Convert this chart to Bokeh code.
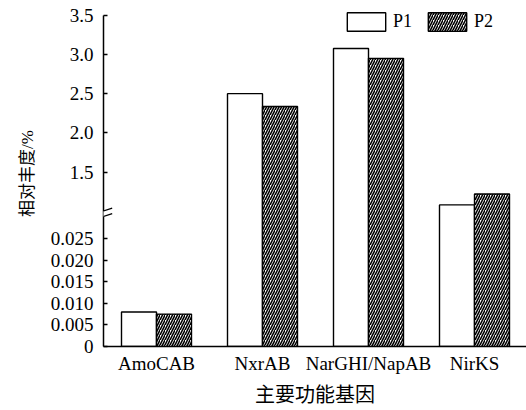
from bokeh.plotting import figure
from bokeh.models import (ColumnDataSource, Range1d, FixedTicker, Legend, LegendItem,
                          Arrow, Title)
from bokeh.transform import dodge
from bokeh.embed import file_html
from bokeh.resources import INLINE

# ---- data ----
categories = ["AmoCAB", "NxrAB", "NarGHI/NapAB", "NirKS"]
p1_values = [0.0080, 2.50, 3.075, 1.08]
p2_values = [0.0075, 2.335, 2.95, 1.22]
lower_ticks = [0, 0.005, 0.010, 0.015, 0.020, 0.025]
lower_labels = ["0", "0.005", "0.010", "0.015", "0.020", "0.025"]
upper_ticks = [1.5, 2.0, 2.5, 3.0, 3.5]
upper_labels = ["1.5", "2.0", "2.5", "3.0", "3.5"]
x_title = "主要功能基因"
y_title = "相对丰度/%"

# ---- broken-axis mapping (value -> display units) ----
LOW_MAX = 0.0311
PX_LOW = 108.3 / 0.025
UP_BASE_V, UP_BASE_D, PX_UP = 1.5, 175.0, 78.6


def disp(v):
    if v <= LOW_MAX:
        return round(v * PX_LOW, 3)
    return round(UP_BASE_D + (v - UP_BASE_V) * PX_UP, 3)


CAT_PX = 106.0
FONT = "'Liberation Serif', 'Noto Sans CJK SC'"

xs = [i + 0.5 for i in range(len(categories))]
src = ColumnDataSource(dict(
    x=xs,
    p1=[disp(v) for v in p1_values],
    p2=[disp(v) for v in p2_values],
))

p = figure(width=526, height=410, output_backend="svg", toolbar_location=None,
           x_range=Range1d(0, 423 / CAT_PX), y_range=Range1d(0, 347),
           min_border_left=103, min_border_right=0, min_border_top=0,
           min_border_bottom=63)
p.outline_line_color = None
p.xgrid.visible = False
p.ygrid.visible = False
p.background_fill_color = "white"
p.border_fill_color = "white"

bw = 35 / CAT_PX
r1 = p.vbar(x=dodge("x", -bw / 2, range=p.x_range), top="p1", bottom=0, width=bw,
            source=src, fill_color="white", line_color="black", line_width=1.4)
r2 = p.vbar(x=dodge("x", bw / 2, range=p.x_range), top="p2", bottom=0, width=bw,
            source=src, fill_color="white", line_color="black", line_width=1.4,
            hatch_pattern="/", hatch_color="black", hatch_scale=5, hatch_weight=1.6)

# x axis
xa = p.xaxis[0]
xa.ticker = FixedTicker(ticks=xs)
xa.major_label_overrides = {x: c for x, c in zip(xs, categories)}
xa.major_tick_in = 0
xa.major_tick_out = 0
xa.minor_tick_line_color = None
xa.axis_line_width = 1.5
xa.axis_line_color = "black"
xa.major_label_text_font = FONT
xa.major_label_text_font_size = "19px"
xa.major_label_text_color = "black"
xa.major_label_standoff = 6

# y axis
ya = p.yaxis[0]
yt = [disp(t) for t in lower_ticks + upper_ticks]
ya.ticker = FixedTicker(ticks=yt)
ya.major_label_overrides = {d: l for d, l in zip(yt, lower_labels + upper_labels)}
ya.bounds = (0, disp(3.5))
ya.major_tick_in = 4
ya.major_tick_out = 0
ya.major_tick_line_width = 1.4
ya.minor_tick_line_color = None
ya.axis_line_width = 1.5
ya.axis_line_color = "black"
ya.major_label_text_font = FONT
ya.major_label_text_font_size = "19px"
ya.major_label_text_color = "black"
ya.major_label_standoff = 10

# axis titles as side titles (allow offset to match the reference)
p.add_layout(Title(text=x_title, align="center", offset=-21, standoff=10,
                   text_font=FONT, text_font_size="20px", text_font_style="normal",
                   text_color="black"), "below")
p.add_layout(Title(text=y_title, align="center", offset=-14, standoff=21,
                   text_font=FONT, text_font_size="17px", text_font_style="normal",
                   text_color="black"), "left")

# axis break marks
px = 1 / CAT_PX
p.add_layout(Arrow(x_start=0, y_start=130, x_end=0, y_end=136, end=None,
                   line_color="white", line_width=3))
p.add_layout(Arrow(x_start=-8 * px, y_start=133.3, x_end=8.7 * px, y_end=138.7, end=None,
                   line_color="black", line_width=1.3))
p.add_layout(Arrow(x_start=-8 * px, y_start=127.7, x_end=8.7 * px, y_end=133.3, end=None,
                   line_color="black", line_width=1.3))

# legend
legend = Legend(items=[LegendItem(label="P1", renderers=[r1]),
                       LegendItem(label="P2", renderers=[r2])],
                orientation="horizontal", location=(239, 313))
legend.glyph_width = 48
legend.glyph_height = 23
legend.label_standoff = 3
legend.spacing = 10
legend.padding = 0
legend.margin = 0
legend.border_line_color = None
legend.background_fill_alpha = 0
legend.label_text_font = FONT
legend.label_text_font_size = "18px"
legend.label_text_color = "black"
p.add_layout(legend)

open("out.html", "w").write(file_html(p, INLINE))
